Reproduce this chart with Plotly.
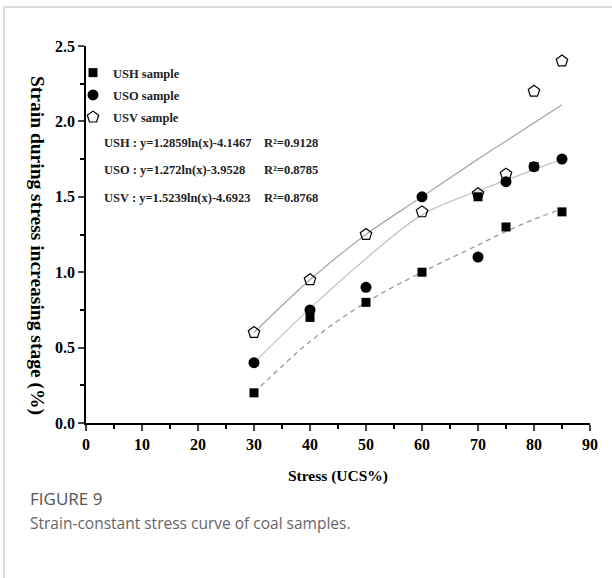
import plotly.graph_objects as go

# ---- data ----
stress = [30, 40, 50, 60, 70, 75, 80, 85]
ush = [0.2, 0.7, 0.8, 1.0, 1.5, 1.3, 1.7, 1.4]
uso = [0.4, 0.75, 0.9, 1.5, 1.1, 1.6, 1.7, 1.75]
usv = [0.6, 0.95, 1.25, 1.4, 1.52, 1.65, 2.2, 2.4]

# fitted trend curves as drawn
fit_x = [30, 40, 50, 60, 70, 75, 80, 85]
ush_fit = [0.2, 0.54, 0.8, 1.0, 1.18, 1.27, 1.35, 1.42]
uso_fit = [0.4, 0.76, 1.09, 1.38, 1.54, 1.61, 1.68, 1.75]
usv_fit = [0.6, 0.95, 1.25, 1.5, 1.75, 1.87, 1.99, 2.11]

x_ticks = [0, 10, 20, 30, 40, 50, 60, 70, 80, 90]
y_ticks = [0.0, 0.5, 1.0, 1.5, 2.0, 2.5]

equations = [
    ("USH : y=1.2859ln(x)-4.1467", "R²=0.9128"),
    ("USO : y=1.272ln(x)-3.9528", "R²=0.8785"),
    ("USV : y=1.5239ln(x)-4.6923", "R²=0.8768"),
]

W, H = 612, 578
L, R, T, B = 86, 590, 46, 423


def px(xp):
    return (xp - L) / (R - L)


def py(yp):
    return (B - yp) / (B - T)


serif = "Liberation Serif"
fig = go.Figure()

# trend curves
fig.add_trace(go.Scatter(x=fit_x, y=ush_fit, mode="lines", line=dict(color="#9a9a9a", width=1.3, dash="5px,4px", shape="spline"), showlegend=False, hoverinfo="skip"))
fig.add_trace(go.Scatter(x=fit_x, y=uso_fit, mode="lines", line=dict(color="#c4c4c4", width=1.3, shape="spline"), showlegend=False, hoverinfo="skip"))
fig.add_trace(go.Scatter(x=fit_x, y=usv_fit, mode="lines", line=dict(color="#a8a8a8", width=1.3, shape="spline"), showlegend=False, hoverinfo="skip"))

# data points
fig.add_trace(go.Scatter(x=stress, y=ush, mode="markers", name="USH sample", legendgroup="a",
                         marker=dict(symbol="square", size=9, color="black")))
fig.add_trace(go.Scatter(x=stress, y=uso, mode="markers", name="USO sample", legendgroup="b",
                         marker=dict(symbol="circle", size=11, color="black")))
fig.add_trace(go.Scatter(x=stress, y=usv, mode="markers", name="USV sample", legendgroup="c",
                         marker=dict(symbol="pentagon-open", size=12, color="black", line=dict(width=1.2))))

tickfont = dict(family=serif, size=16, color="black", weight="bold")

fig.update_xaxes(range=[0, 90], tickvals=x_ticks, ticks="outside", ticklen=6, tickwidth=1.5,
                 showline=True, linecolor="black", linewidth=1.5, showgrid=False, zeroline=False,
                 tickfont=tickfont, minor=dict(dtick=5, tick0=0, ticks="outside", ticklen=4, tickwidth=1.5, tickcolor="black"),
                 title=dict(text="Stress (UCS%)", font=dict(family=serif, size=15.5, color="black", weight="bold"), standoff=18))
fig.update_yaxes(range=[0, 2.5], tickvals=y_ticks, tickformat=".1f", ticks="outside", ticklen=6, tickwidth=1.5,
                 showline=True, linecolor="black", linewidth=1.5, showgrid=False, zeroline=False,
                 tickfont=tickfont, minor=dict(dtick=0.25, tick0=0, ticks="outside", ticklen=4, tickwidth=1.5, tickcolor="black"))

annotations = []
# y axis title, reading top to bottom
annotations.append(dict(text="Strain during stress increasing stage (%)", textangle=90,
                        xref="paper", yref="paper", x=px(37), y=py(245), xanchor="center", yanchor="middle",
                        showarrow=False, font=dict(family=serif, size=19.5, color="black", weight="bold")))
eq_y = [143, 170, 198]
for (eq, r2), yy in zip(equations, eq_y):
    annotations.append(dict(text=eq, xref="paper", yref="paper", x=px(102), y=py(yy), xanchor="left",
                            yanchor="middle", showarrow=False,
                            font=dict(family=serif, size=12.5, color="#222", weight="bold")))
    annotations.append(dict(text=r2, xref="paper", yref="paper", x=px(262), y=py(yy), xanchor="left",
                            yanchor="middle", showarrow=False,
                            font=dict(family=serif, size=12.5, color="#222", weight="bold")))
# caption
annotations.append(dict(text="FIGURE 9", xref="paper", yref="paper", x=px(28), y=py(498), xanchor="left",
                        yanchor="middle", showarrow=False, font=dict(family="Open Sans", size=17, color="#555")))
annotations.append(dict(text="Strain-constant stress curve of coal samples.", xref="paper", yref="paper",
                        x=px(28), y=py(523), xanchor="left", yanchor="middle", showarrow=False,
                        font=dict(family="Open Sans", size=15.5, color="#666")))

shapes = [
    dict(type="line", xref="paper", yref="paper", x0=px(4), x1=px(612), y0=py(7), y1=py(7),
         line=dict(color="#cfcfcf", width=1.5)),
    dict(type="line", xref="paper", yref="paper", x0=px(4), x1=px(4), y0=py(7), y1=py(578),
         line=dict(color="#cfcfcf", width=1.5)),
]

fig.update_layout(
    width=W, height=H,
    margin=dict(l=L, r=W - R, t=T, b=H - B, autoexpand=False),
    paper_bgcolor="white", plot_bgcolor="white",
    showlegend=True,
    legend=dict(x=px(73), y=py(58), xanchor="left", yanchor="top", bgcolor="rgba(0,0,0,0)",
                font=dict(family=serif, size=12.5, color="#222", weight="bold"), itemwidth=30,
                tracegroupgap=3),
    annotations=annotations, shapes=shapes,
)

fig.write_html("out.html", config={"displayModeBar": False},
               post_script="document.body.style.margin='0px';document.body.style.overflow='hidden';")
